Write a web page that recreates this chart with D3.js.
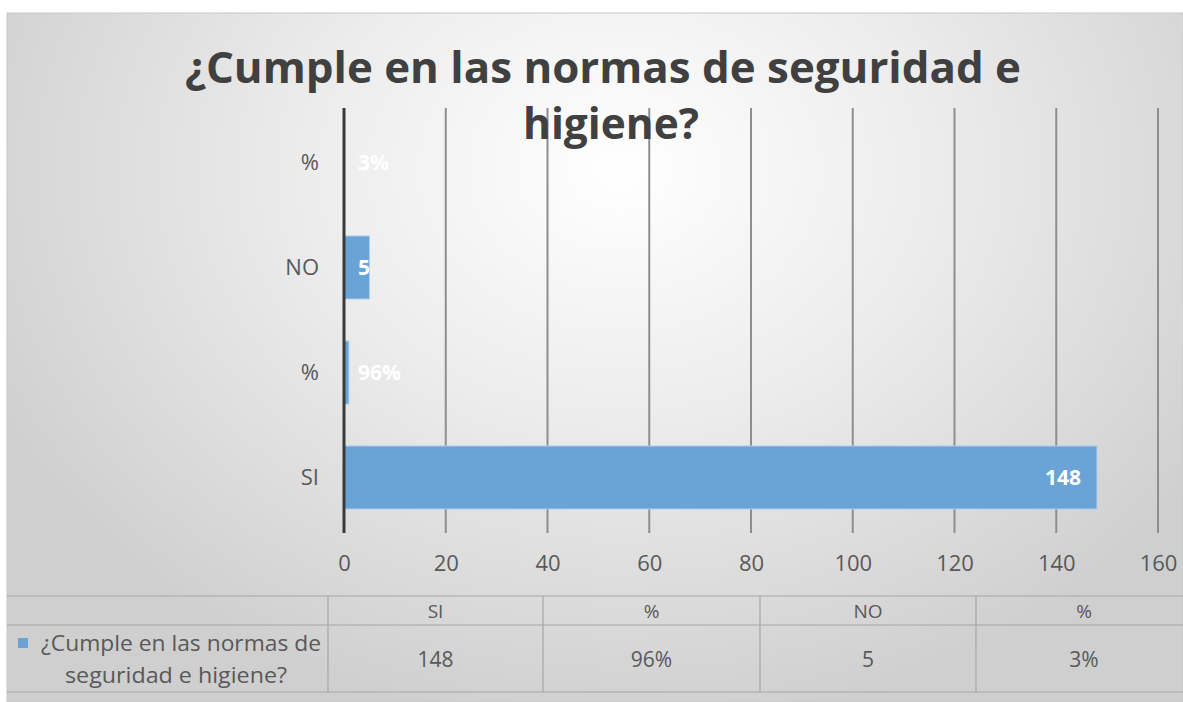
<!DOCTYPE html>
<html><head><meta charset="utf-8">
<script src="https://cdn.jsdelivr.net/npm/d3@7"></script>
<style>body{margin:0;background:#fff}svg{display:block}</style>
</head><body>
<svg id="c" width="1183" height="702"></svg>
<script>
const titleLines = ["¿Cumple en las normas de seguridad e", "higiene?"];
const seriesName = ["¿Cumple en las normas de", "seguridad e higiene?"];
// bottom-to-top order as in the chart
const categories = ["SI", "%", "NO", "%"];
const values = [148, 0.96, 5, 0.03];
const valueLabels = ["148", "96%", "5", "3%"];
const xTicks = [0, 20, 40, 60, 80, 100, 120, 140, 160];

const FONT = "'Open Sans', sans-serif";
const svg = d3.select("#c");
const defs = svg.append("defs");
const g = defs.append("radialGradient").attr("id","bg").attr("gradientUnits","userSpaceOnUse")
  .attr("cx",620).attr("cy",170).attr("r",700).attr("fx",620).attr("fy",170)
  .attr("gradientTransform","translate(620,170) scale(1,0.8) translate(-620,-170)");
g.append("stop").attr("offset","0").attr("stop-color","#ffffff");
g.append("stop").attr("offset","0.45").attr("stop-color","#ececec");
g.append("stop").attr("offset","1").attr("stop-color","#cfcfcf");

svg.append("rect").attr("x",7).attr("y",13).attr("width",1183-7).attr("height",702-13)
  .attr("fill","url(#bg)").attr("stroke","#c8c8c8").attr("stroke-width",1);

const x = d3.scaleLinear().domain([0,160]).range([344,1158]);
const idx = categories.map((d,i)=>i);
const y = d3.scaleBand().domain(idx.slice().reverse()).range([110,530]).paddingInner(0.4).paddingOuter(0.2);

// gridlines
svg.append("g").selectAll("line").data(xTicks.slice(1)).join("line")
  .attr("x1",d=>x(d)).attr("x2",d=>x(d)).attr("y1",108).attr("y2",533)
  .attr("stroke","#8e8e8e").attr("stroke-width",2);

// bars
svg.append("g").selectAll("rect").data(idx).join("rect")
  .attr("x",x(0)).attr("y",i=>y(i)).attr("height",y.bandwidth())
  .attr("width",i=>x(values[i])-x(0))
  .attr("fill","#6aa3d6").attr("stroke","#a9cdef").attr("stroke-width",1);

// axis line
svg.append("line").attr("x1",x(0)).attr("x2",x(0)).attr("y1",108).attr("y2",533)
  .attr("stroke","#3a3a3a").attr("stroke-width",3);

// x axis tick labels
const xAxis = d3.axisBottom(x).tickValues(xTicks).tickSize(0).tickPadding(0);
const xa = svg.append("g").attr("transform","translate(0,563)").call(xAxis);
xa.select(".domain").remove();
xa.selectAll("text").attr("font-family",FONT).attr("font-size",22)
  .attr("fill","#595959").attr("dy","0.35em");

// y axis category labels
const yAxis = d3.axisLeft(y).tickFormat(i=>categories[i]).tickSize(0).tickPadding(0);
const ya = svg.append("g").attr("transform","translate(319,0)").call(yAxis);
ya.select(".domain").remove();
ya.selectAll("text").attr("font-family",FONT).attr("font-size",22).attr("fill","#595959");

// data labels
const lbl = svg.append("g").selectAll("text").data(idx).join("text")
  .attr("y",i=>y(i)+y.bandwidth()/2).attr("dy","0.35em")
  .attr("font-family",FONT).attr("font-weight","bold").attr("font-size",21)
  .attr("fill","#ffffff").attr("text-anchor","end").text(i=>valueLabels[i]);
lbl.attr("x", function(i){ const w=this.getComputedTextLength(); return Math.max(x(values[i])-16, x(0)+14+w); });

// title
const titleY = [83, 139];
const titleW = [836, 176];
const titleX = [603, 611];
titleLines.forEach((t,k)=>{
  svg.append("text").attr("x",titleX[k]).attr("y",titleY[k]).attr("text-anchor","middle")
    .attr("font-family",FONT).attr("font-weight","bold").attr("font-size",43)
    .attr("fill","#404040").attr("textLength",titleW[k]).attr("lengthAdjust","spacingAndGlyphs").text(t);
});

// data table
const colX = [328, 543, 760, 976, 1192];
const tbl = svg.append("g").attr("stroke","#a6a6a6").attr("stroke-width",1.2);
[596, 625, 692].forEach(yy=>{
  tbl.append("line").attr("x1",7).attr("x2",1183).attr("y1",yy).attr("y2",yy);
});
colX.slice(0,4).forEach(xx=>{
  tbl.append("line").attr("x1",xx).attr("x2",xx).attr("y1",596).attr("y2",692);
});
const colCenters = d3.range(4).map(k=>(colX[k]+colX[k+1])/2);
svg.append("g").selectAll("text").data(idx).join("text")
  .attr("x",i=>colCenters[i]).attr("y",611).attr("dy","0.35em").attr("text-anchor","middle")
  .attr("font-family",FONT).attr("font-size",19).attr("fill","#595959")
  .text(i=>categories[i]);
svg.append("g").selectAll("text").data(idx).join("text")
  .attr("x",i=>colCenters[i]).attr("y",660).attr("dy","0.35em").attr("text-anchor","middle")
  .attr("font-family",FONT).attr("font-size",21).attr("fill","#595959")
  .text(i=>valueLabels[i]);

// legend in table
svg.append("rect").attr("x",18).attr("y",638).attr("width",10).attr("height",10).attr("fill","#6aa3d6");
const legY = [643, 675];
const legX = [181, 176];
const legW = [280, 222];
seriesName.forEach((t,k)=>{
  svg.append("text").attr("x",legX[k]).attr("y",legY[k]).attr("dy","0.35em").attr("text-anchor","middle")
    .attr("font-family",FONT).attr("font-size",22).attr("fill","#595959")
    .attr("textLength",legW[k]).attr("lengthAdjust","spacingAndGlyphs").text(t);
});
</script>
</body></html>
